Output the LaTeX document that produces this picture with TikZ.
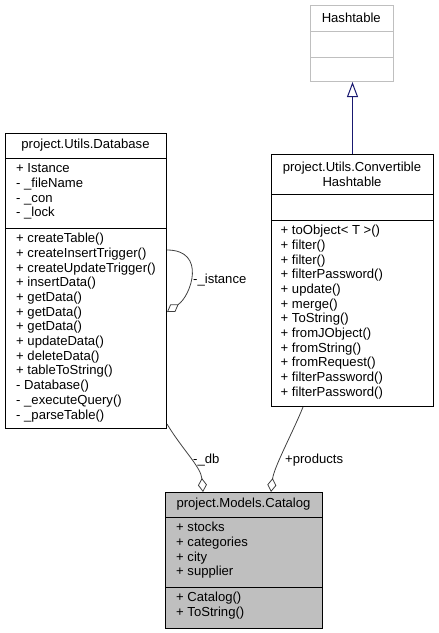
\documentclass[tikz,border=0pt]{standalone}
\usepackage{fontspec}
\setmainfont{Liberation Sans}
\usetikzlibrary{arrows.meta,calc}
\definecolor{edgegray}{HTML}{404040}
\definecolor{hashgray}{HTML}{BFBFBF}
\definecolor{inhblue}{HTML}{191970}
\newcommand\umlfont{\fontsize{13.1}{14.7}\selectfont}
\tikzset{
  cls/.style={draw=black, line width=1pt, fill=white, inner sep=0pt, anchor=north west},
  sect/.style={anchor=north west, inner sep=0pt, align=left, font=\umlfont},
  ttl/.style={anchor=center, inner sep=0pt, align=center, font=\umlfont},
  sepline/.style={line width=1pt},
  agg/.style={draw=edgegray, line width=0.8pt, -{Diamond[open, fill=white, length=14pt, width=9pt]}},
  inh/.style={draw=inhblue, line width=1pt, -{Triangle[open, fill=white, length=15pt, width=11pt]}},
  lbl/.style={font=\umlfont, inner sep=0pt, anchor=west},
}
\begin{document}
\begin{tikzpicture}[x=1pt,y=-1pt]
\useasboundingbox (0,0) rectangle (439,633);

% Hashtable
\node[cls, draw=hashgray, minimum width=82.5pt, minimum height=76pt] (ht) at (310,5) {};
\draw[hashgray, sepline] (310,31) -- (392.5,31);
\draw[hashgray, sepline] (310,57) -- (392.5,57);
\node[ttl] (ht-t) at (351.25,18) {Hashtable};

% ConvertibleHashtable
\node[cls, minimum width=162pt, minimum height=252pt] (ch) at (271,154) {};
\draw[sepline] (271,194) -- (433,194);
\draw[sepline] (271,220) -- (433,220);
\node[ttl] (ch-t) at (352,174) {project.Utils.Convertible\\Hashtable};
\node[sect] (ch-m) at (280.5,224.2) {\strut+ toObject< T >()\\+ filter()\\+ filter()\\+ filterPassword()\\+ update()\\+ merge()\\+ ToString()\\+ fromJObject()\\+ fromString()\\+ fromRequest()\\+ filterPassword()\\+ filterPassword()};

% Database
\node[cls, minimum width=161pt, minimum height=295pt] (db) at (5,133) {};
\draw[sepline] (5,158) -- (166,158);
\draw[sepline] (5,228) -- (166,228);
\node[ttl] (db-t) at (85.5,145.5) {project.Utils.Database};
\node[sect] (db-a) at (16,162.2) {\strut+ Istance\\- \_fileName\\- \_con\\- \_lock};
\node[sect] (db-m) at (16,232.2) {\strut+ createTable()\\+ createInsertTrigger()\\+ createUpdateTrigger()\\+ insertData()\\+ getData()\\+ getData()\\+ getData()\\+ updateData()\\+ deleteData()\\+ tableToString()\\- Database()\\- \_executeQuery()\\- \_parseTable()};

% Catalog
\node[cls, fill=hashgray, minimum width=157pt, minimum height=136pt] (cat) at (165,492) {};
\draw[sepline] (165,517) -- (322,517);
\draw[sepline] (165,587) -- (322,587);
\node[ttl] (cat-t) at (243.5,504.5) {project.Models.Catalog};
\node[sect] (cat-a) at (176,521.2) {\strut+ stocks\\+ categories\\+ city\\+ supplier};
\node[sect] (cat-m) at (176,591.2) {\strut+ Catalog()\\+ ToString()};

% connectors
\draw[inh] (ch.north) -- (ch.north |- ht.south);
\draw[agg] ($(db.north east)+(0,117)$) .. controls +(40,0) and +(24,-16) .. ($(db.north east)+(0,179)$);
\node[lbl] (l-ist) at (193,280) {-\_istance};
\draw[agg] ($(db.south east)+(0,-5)$) .. controls +(15,25) and +(-2,-25) .. ($(cat.north west)+(38,0)$);
\node[lbl] (l-db) at (193,460) {-\_db};
\draw[agg] ($(ch.south west)+(32,0)$) .. controls +(-10,25) and +(3,-25) .. ($(cat.north west)+(106,0)$);
\node[lbl] (l-prod) at (285,460) {+products};
\end{tikzpicture}
\end{document}
